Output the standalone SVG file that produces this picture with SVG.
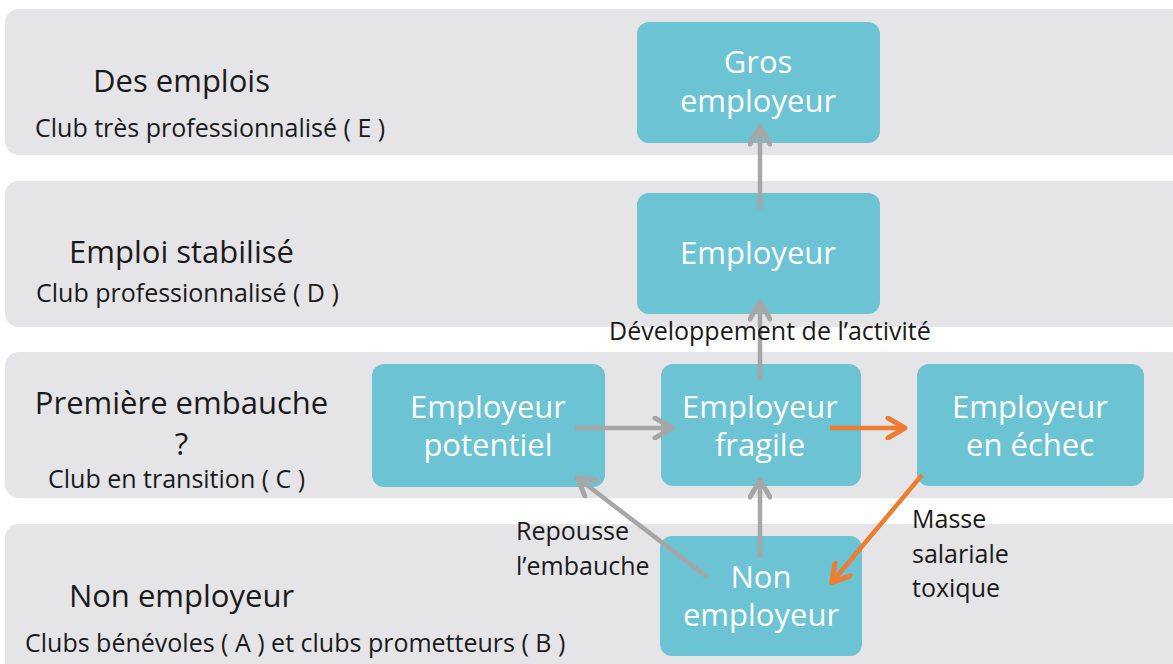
<svg xmlns="http://www.w3.org/2000/svg" width="1173" height="664" viewBox="0 0 1173 664">
<defs>
<style>
.band{fill:#e5e5e7}
.node{fill:#6bc3d3}
.nt{font-family:"Open Sans","Liberation Sans",sans-serif;font-size:31px;fill:#ffffff;text-anchor:middle}
.hd{font-family:"Open Sans","Liberation Sans",sans-serif;font-size:31px;fill:#1a1a1a;text-anchor:middle}
.sm{font-family:"Open Sans","Liberation Sans",sans-serif;font-size:25px;fill:#1a1a1a}
.g{stroke:#a6a6a6;stroke-width:4.5;fill:none;marker-end:url(#ag)}
.o{stroke:#ed7d31;stroke-width:4.5;fill:none;marker-end:url(#ao)}
</style>
<marker id="ag" markerUnits="userSpaceOnUse" viewBox="0 0 24 24" markerWidth="24" markerHeight="24" refX="18" refY="12" orient="auto">
<path d="M3,2 L20,12 L3,22" fill="none" stroke="#a6a6a6" stroke-width="5" stroke-linejoin="round" stroke-linecap="round"/>
</marker>
<marker id="ao" markerUnits="userSpaceOnUse" viewBox="0 0 24 24" markerWidth="24" markerHeight="24" refX="18" refY="12" orient="auto">
<path d="M3,2 L20,12 L3,22" fill="none" stroke="#ed7d31" stroke-width="5" stroke-linejoin="round" stroke-linecap="round"/>
</marker>
</defs>
<rect width="1173" height="664" fill="#ffffff"/>
<g id="bands">
<rect class="band" x="5" y="9" width="1180" height="146" rx="14"/>
<rect class="band" x="5" y="181" width="1180" height="146" rx="14"/>
<rect class="band" x="5" y="352" width="1180" height="146" rx="14"/>
<rect class="band" x="5" y="524" width="1180" height="170" rx="14"/>
</g>
<g id="level-labels">
<text class="hd" x="181.5" y="92">Des emplois</text>
<text class="sm" x="35" y="137">Club très professionnalisé ( E )</text>
<text class="hd" x="181.5" y="263">Emploi stabilisé</text>
<text class="sm" x="36" y="302">Club professionnalisé ( D )</text>
<text class="hd" x="181.5" y="414">Première embauche</text>
<text class="hd" x="181.5" y="455">?</text>
<text class="sm" x="48" y="488">Club en transition ( C )</text>
<text class="hd" x="181.5" y="607">Non employeur</text>
<text class="sm" x="25" y="652">Clubs bénévoles ( A ) et clubs prometteurs ( B )</text>
</g>
<g id="node-gros">
<rect class="node" x="637" y="22" width="243" height="121" rx="12"/>
<text class="nt" x="758" y="73">Gros</text>
<text class="nt" x="758" y="112">employeur</text>
</g>
<g id="node-employeur">
<rect class="node" x="637" y="193" width="243" height="121" rx="12"/>
<text class="nt" x="758" y="264">Employeur</text>
</g>
<g id="node-potentiel">
<rect class="node" x="372" y="364" width="233" height="123" rx="12"/>
<text class="nt" x="488" y="418">Employeur</text>
<text class="nt" x="488" y="456">potentiel</text>
</g>
<g id="node-fragile">
<rect class="node" x="661" y="364" width="200" height="122" rx="12"/>
<text class="nt" x="760" y="418">Employeur</text>
<text class="nt" x="760" y="456">fragile</text>
</g>
<g id="node-echec">
<rect class="node" x="917" y="364" width="227" height="122" rx="12"/>
<text class="nt" x="1030" y="418">Employeur</text>
<text class="nt" x="1030" y="456">en échec</text>
</g>
<g id="node-non">
<rect class="node" x="660" y="536" width="202" height="120" rx="12"/>
<text class="nt" x="761" y="588">Non</text>
<text class="nt" x="761" y="626">employeur</text>
</g>
<g id="connectors">
<line class="g" x1="760" y1="209" x2="760" y2="129"/>
<line class="g" x1="760" y1="380" x2="760" y2="304"/>
<line class="g" x1="575" y1="428" x2="670" y2="428"/>
<line class="o" x1="830" y1="428" x2="903" y2="428"/>
<line class="g" x1="760" y1="558" x2="760" y2="482"/>
<line class="g" x1="707" y1="577" x2="579" y2="479"/>
<line class="o" x1="922" y1="475" x2="833" y2="581"/>
</g>
<g id="connector-labels">
<text class="sm" x="609" y="340">Développement de l’activité</text>
<text class="sm" x="516" y="540">Repousse</text>
<text class="sm" x="516" y="575">l’embauche</text>
<text class="sm" x="912" y="528">Masse</text>
<text class="sm" x="912" y="563">salariale</text>
<text class="sm" x="912" y="597">toxique</text>
</g>
</svg>
